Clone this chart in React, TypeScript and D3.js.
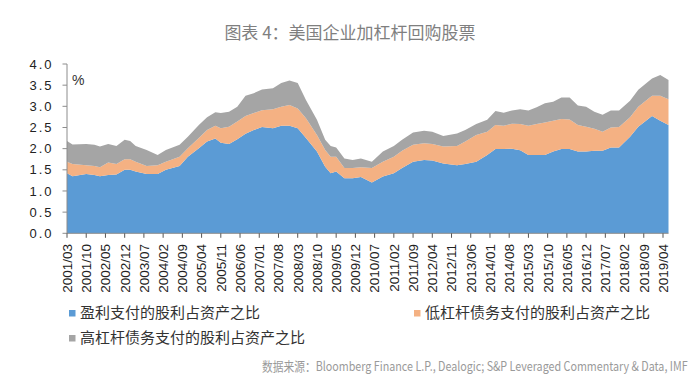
import React from "react";
import * as d3 from "d3";

const dates = [
  "2001/03","2001/05","2001/10","2002/01","2002/03","2002/06","2002/09","2002/12","2003/02","2003/04",
  "2003/08","2003/12","2004/03","2004/08","2004/11","2005/03","2005/06","2005/09","2005/11","2006/02",
  "2006/05","2006/08","2006/11","2007/02","2007/06","2007/09","2007/12","2008/03","2008/06","2008/10",
  "2009/01","2009/03","2009/05","2009/08","2009/11","2010/02","2010/06","2010/10","2011/02","2011/05",
  "2011/09","2012/01","2012/04","2012/08","2013/01","2013/04","2013/08","2013/12","2014/03","2014/06",
  "2014/09","2014/12","2015/03","2015/06","2015/09","2015/12","2016/03","2016/06","2016/09","2016/12",
  "2017/03","2017/06","2017/09","2017/12","2018/04","2018/07","2018/12","2019/03","2019/06",
];

// 盈利支付的股利占资产之比
const profitFunded = [
  1.42,1.35,1.40,1.38,1.35,1.38,1.39,1.50,1.50,1.46,
  1.40,1.40,1.50,1.59,1.81,2.01,2.17,2.24,2.14,2.11,
  2.22,2.35,2.44,2.51,2.48,2.54,2.54,2.48,2.25,1.93,
  1.57,1.42,1.46,1.30,1.30,1.33,1.20,1.34,1.42,1.54,
  1.69,1.73,1.72,1.65,1.61,1.64,1.69,1.85,1.99,1.99,
  2.00,1.96,1.85,1.85,1.85,1.93,1.99,1.99,1.93,1.93,
  1.95,1.95,2.03,2.03,2.28,2.52,2.77,2.66,2.56,
];

// 低杠杆债务支付的股利占资产之比
const lowLeverage = [
  0.27,0.29,0.21,0.21,0.21,0.29,0.25,0.25,0.25,0.23,
  0.19,0.21,0.19,0.22,0.20,0.24,0.27,0.30,0.34,0.41,
  0.42,0.42,0.40,0.40,0.45,0.45,0.49,0.47,0.47,0.39,
  0.40,0.39,0.35,0.24,0.24,0.23,0.34,0.35,0.39,0.41,
  0.40,0.40,0.39,0.40,0.45,0.53,0.63,0.55,0.57,0.55,
  0.59,0.62,0.69,0.73,0.77,0.73,0.71,0.70,0.63,0.59,
  0.52,0.45,0.47,0.48,0.46,0.47,0.48,0.59,0.61,
];

// 高杠杆债务支付的股利占资产之比
const highLeverage = [
  0.49,0.46,0.50,0.50,0.49,0.44,0.42,0.46,0.43,0.37,
  0.38,0.24,0.28,0.28,0.27,0.31,0.30,0.32,0.36,0.35,
  0.35,0.48,0.47,0.49,0.50,0.56,0.58,0.60,0.43,0.36,
  0.24,0.25,0.22,0.23,0.19,0.21,0.15,0.24,0.25,0.26,
  0.29,0.29,0.29,0.25,0.30,0.27,0.26,0.28,0.33,0.31,
  0.31,0.35,0.36,0.40,0.45,0.45,0.51,0.52,0.46,0.47,
  0.40,0.40,0.40,0.39,0.39,0.40,0.41,0.49,0.45,
];

const yTicks = [0, 0.5, 1, 1.5, 2, 2.5, 3, 3.5, 4];

const tickLabels = [
  "2001/03","2001/10","2002/05","2002/12","2003/07","2004/02","2004/09","2005/04",
  "2005/11","2006/06","2007/01","2007/08","2008/03","2008/10","2009/05","2009/12",
  "2010/07","2011/02","2011/09","2012/04","2012/11","2013/06","2014/01","2014/08",
  "2015/03","2015/10","2016/05","2016/12","2017/07","2018/02","2018/09","2019/04",
];

const seriesNames = [
  "盈利支付的股利占资产之比",
  "低杠杆债务支付的股利占资产之比",
  "高杠杆债务支付的股利占资产之比",
];
const colors = ["#5B9BD5", "#F4B183", "#A5A5A5"];

const monthIndex = (s: string) => {
  const [y, m] = s.split("/").map(Number);
  return (y - 2001) * 12 + (m - 3);
};

export default function App() {
  const W = 700, H = 383;
  const x = d3.scaleLinear().domain([0, 219]).range([67, 668.5]);
  const y = d3.scaleLinear().domain([0, 4]).range([233.3, 64]);

  const rows = dates.map((d, i) => ({
    m: monthIndex(d),
    a: profitFunded[i],
    b: lowLeverage[i],
    c: highLeverage[i],
  }));
  const stack = d3.stack<any>().keys(["a", "b", "c"]);
  const layers = stack(rows);
  const area = d3
    .area<any>()
    .x((d) => x(d.data.m))
    .y0((d) => y(d[0]))
    .y1((d) => y(d[1]))
    .curve(d3.curveLinear);

  const axisColor = "#8c8c8c";
  const latin = "Arial, 'Liberation Sans', sans-serif";
  const cjk = "'Noto Sans CJK SC', sans-serif";

  return (
    <svg
      width={W}
      height={H}
      style={{ position: "absolute", left: 0, top: 0, background: "#fff" }}
    >
      <rect x={0} y={0} width={W} height={H} fill="#fff" />
      <text
        x={350}
        y={39}
        textAnchor="middle"
        fontFamily={cjk}
        fontSize={17}
        fill="#7f7f7f"
      >
        图表 4：美国企业加杠杆回购股票
      </text>

      {layers.map((layer, i) => (
        <path key={i} d={area(layer) || ""} fill={colors[i]} />
      ))}

      {/* y axis */}
      <line x1={67} x2={67} y1={y(4)} y2={y(0)} stroke={axisColor} strokeWidth={1} />
      {yTicks.map((t) => (
        <g key={t}>
          <line x1={62.5} x2={67} y1={y(t)} y2={y(t)} stroke={axisColor} />
          <text
            x={53.5}
            y={y(t)}
            dy="0.36em"
            textAnchor="end"
            fontFamily={latin}
            fontSize={13}
            fill="#222"
            letterSpacing={2}
          >
            {t.toFixed(1)}
          </text>
        </g>
      ))}
      <text x={72} y={85} fontFamily={latin} fontSize={14} fill="#333">
        %
      </text>

      {/* x axis */}
      <line x1={67} x2={668.5} y1={y(0)} y2={y(0)} stroke={axisColor} />
      {tickLabels.map((t) => {
        const px = x(monthIndex(t));
        return (
          <g key={t}>
            <line x1={px} x2={px} y1={y(0)} y2={y(0) + 4.5} stroke="#555" />
            <text
              transform={`translate(${px},${244}) rotate(-90)`}
              dy="0.36em"
              textAnchor="end"
              fontFamily={latin}
              fontSize={13.5}
              fill="#222"
            >
              {t}
            </text>
          </g>
        );
      })}

      {/* legend */}
      {[
        { i: 0, lx: 69, ly: 313 },
        { i: 1, lx: 414, ly: 313 },
        { i: 2, lx: 69, ly: 338 },
      ].map(({ i, lx, ly }) => (
        <g key={i}>
          <rect x={lx} y={ly - 3} width={6.5} height={6.5} fill={colors[i]} />
          <text
            x={lx + 11}
            y={ly}
            dy="0.36em"
            fontFamily={cjk}
            fontSize={15}
            fill="#333"
          >
            {seriesNames[i]}
          </text>
        </g>
      ))}

      <g transform="translate(262,366) scale(0.82,1)">
        <text
          x={0}
          y={0}
          dy="0.36em"
          fontFamily={cjk}
          fontSize={13}
          fill="#9a9a9a"
          textLength={519}
          lengthAdjust="spacingAndGlyphs"
        >
          数据来源：Bloomberg Finance L.P., Dealogic; S&amp;P Leveraged Commentary &amp; Data, IMF
        </text>
      </g>
    </svg>
  );
}
